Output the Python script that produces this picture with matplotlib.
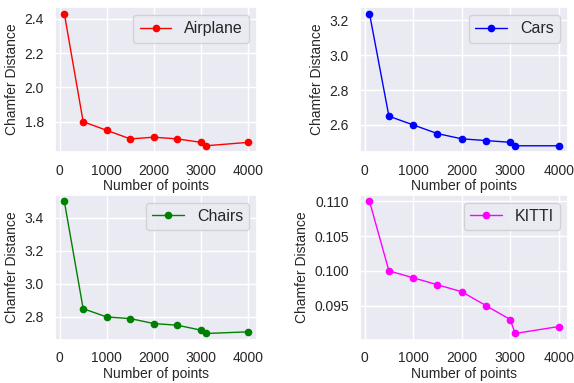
import matplotlib
matplotlib.use('Agg')
import matplotlib.pyplot as plt
import seaborn as sns
from matplotlib.ticker import MultipleLocator

sns.set_theme(style='darkgrid')
plt.rcParams['font.family'] = ['Liberation Sans', 'DejaVu Sans']

# number of points on the x axis
points = [100, 500, 1000, 1500, 2000, 2500, 3000, 3100, 4000]

# chamfer distance per dataset
airplane = [2.43, 1.80, 1.75, 1.70, 1.71, 1.70, 1.68, 1.66, 1.68]
cars = [3.24, 2.65, 2.60, 2.55, 2.52, 2.51, 2.50, 2.48, 2.48]
chairs = [3.50, 2.85, 2.80, 2.79, 2.76, 2.75, 2.72, 2.70, 2.71]
kitti = [0.110, 0.100, 0.099, 0.098, 0.097, 0.095, 0.093, 0.091, 0.092]

names = ['Airplane', 'Cars', 'Chairs', 'KITTI']
colors = ['red', 'blue', 'green', 'magenta']
series = [airplane, cars, chairs, kitti]
ysteps = [0.2, 0.2, 0.2, 0.005]

fig, axes = plt.subplots(2, 2, figsize=(5.74, 3.83), dpi=100,
                         gridspec_kw={'width_ratios': [204, 210]})
plt.subplots_adjust(left=0.096, right=0.99, top=0.982, bottom=0.112,
                    wspace=0.5, hspace=0.29)

for ax, name, color, values, step in zip(axes.flat, names, colors, series, ysteps):
    ax.plot(points, values, color=color, marker='o', markersize=4.5,
            linewidth=1, label=name)
    ax.set_xlabel('Number of points', fontsize=10, labelpad=1)
    ax.set_ylabel('Chamfer Distance', fontsize=10, labelpad=4)
    ax.tick_params(labelsize=10, pad=2)
    ax.set_xticks([0, 1000, 2000, 3000, 4000])
    ax.yaxis.set_major_locator(MultipleLocator(step))
    ax.legend(fontsize=11.5, loc='upper right')

plt.savefig('out.png')
